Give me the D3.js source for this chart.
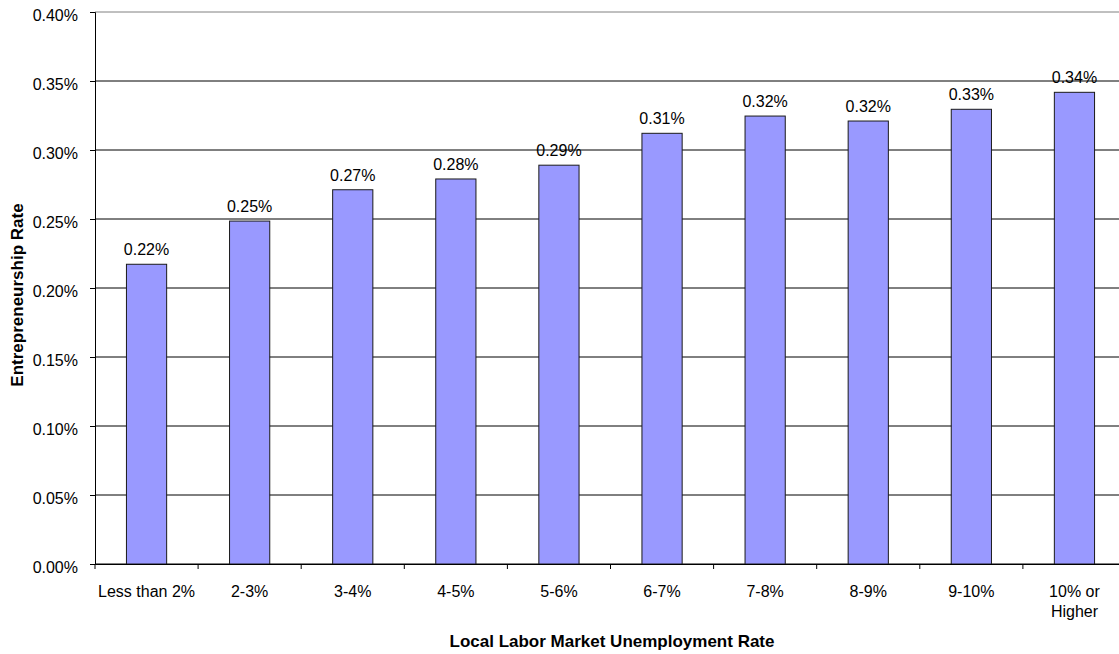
<!DOCTYPE html>
<html>
<head>
<meta charset="utf-8">
<script src="https://cdn.jsdelivr.net/npm/d3@7"></script>
<style>
  body { margin: 0; background: #fff; }
  svg { font-family: "Liberation Sans", Arial, sans-serif; }
</style>
</head>
<body>
<svg id="chart"></svg>
<script>
// chart data
const categories = ["Less than 2%", "2-3%", "3-4%", "4-5%", "5-6%", "6-7%", "7-8%", "8-9%", "9-10%", "10% or Higher"];
const rates = [0.2172, 0.2485, 0.2712, 0.2790, 0.2890, 0.3121, 0.3246, 0.3210, 0.3295, 0.3418];
const yTicks = [0, 0.05, 0.10, 0.15, 0.20, 0.25, 0.30, 0.35, 0.40];

const width = 1119;
const height = 654;
const margin = { top: 12, right: -7, bottom: 90, left: 95 };

const svg = d3.select("#chart")
    .attr("width", width)
    .attr("height", height);

const x = d3.scaleBand()
    .domain(categories)
    .range([margin.left, width - margin.right])
    .padding(0);

const y = d3.scaleLinear()
    .domain([0, 0.40])
    .range([height - margin.bottom, margin.top]);

// gridlines
svg.append("g")
    .selectAll("line")
    .data(yTicks)
    .enter()
    .append("line")
    .attr("x1", margin.left)
    .attr("x2", width - margin.right)
    .attr("y1", d => y(d))
    .attr("y2", d => y(d))
    .attr("stroke", d => d === 0.40 ? "#808080" : "#000")
    .attr("stroke-width", 1);

// bars
const barW = x.bandwidth() * 0.39;
svg.append("g")
    .selectAll("rect")
    .data(rates)
    .enter()
    .append("rect")
    .attr("x", (d, i) => x(categories[i]) + (x.bandwidth() - barW) / 2)
    .attr("y", d => y(d))
    .attr("width", barW)
    .attr("height", d => y(0) - y(d))
    .attr("fill", "#9999FF")
    .attr("stroke", "#1a1a1a")
    .attr("stroke-width", 1);

// value labels
svg.append("g")
    .selectAll("text")
    .data(rates)
    .enter()
    .append("text")
    .attr("x", (d, i) => x(categories[i]) + x.bandwidth() / 2)
    .attr("y", d => y(d) - 9)
    .attr("text-anchor", "middle")
    .attr("font-size", 16)
    .attr("fill", "#000")
    .text(d => d.toFixed(2) + "%");

// y axis
const yAxis = svg.append("g")
    .attr("transform", `translate(${margin.left},0)`)
    .call(d3.axisLeft(y).tickValues(yTicks).tickSize(5).tickPadding(12)
        .tickFormat(d => d.toFixed(2) + "%"));
yAxis.select(".domain").attr("stroke", "#000");
yAxis.selectAll("text")
    .attr("font-size", 16)
    .attr("dy", "0.5em")
    .attr("font-family", "Liberation Sans, Arial, sans-serif")
    .attr("fill", "#000");

// x axis
const xAxis = svg.append("g")
    .attr("transform", `translate(0,${y(0)})`)
    .call(d3.axisBottom(x).tickSize(0).tickFormat(""));
xAxis.select(".domain").attr("stroke", "#000");

// ticks at category boundaries
svg.append("g")
    .selectAll("line")
    .data(categories)
    .enter()
    .append("line")
    .attr("x1", d => x(d))
    .attr("x2", d => x(d))
    .attr("y1", y(0))
    .attr("y2", y(0) + 5)
    .attr("stroke", "#000");

// category labels, wrapped like the original
const labelG = svg.append("g");
categories.forEach(c => {
    const lines = c === "10% or Higher" ? ["10% or", "Higher"] : [c];
    const t = labelG.append("text")
        .attr("x", x(c) + x.bandwidth() / 2)
        .attr("y", y(0) + 33)
        .attr("text-anchor", "middle")
        .attr("font-size", 16)
        .attr("fill", "#000");
    lines.forEach((l, i) => {
        t.append("tspan")
            .attr("x", x(c) + x.bandwidth() / 2)
            .attr("dy", i === 0 ? 0 : 19.5)
            .text(l);
    });
});

// axis titles
svg.append("text")
    .attr("x", 612)
    .attr("y", 647)
    .attr("text-anchor", "middle")
    .attr("font-size", 17)
    .attr("font-weight", "bold")
    .text("Local Labor Market Unemployment Rate");

svg.append("text")
    .attr("transform", `translate(23,295) rotate(-90)`)
    .attr("text-anchor", "middle")
    .attr("font-size", 17)
    .attr("font-weight", "bold")
    .text("Entrepreneurship Rate");
</script>
</body>
</html>
